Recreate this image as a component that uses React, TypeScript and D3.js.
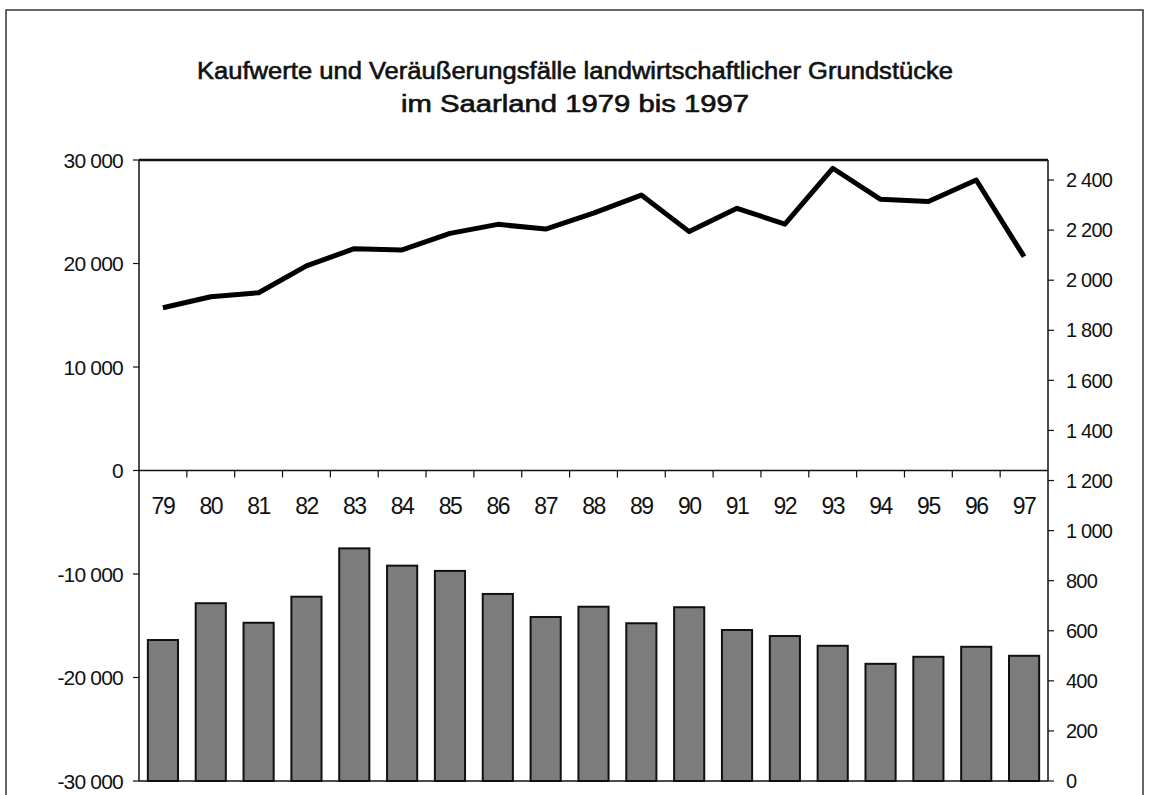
import * as d3 from "d3";

// Saarland, agricultural land: purchase values (line) and number of sales (bars)
const years = ["79", "80", "81", "82", "83", "84", "85", "86", "87", "88", "89", "90", "91", "92", "93", "94", "95", "96", "97"];
const kaufwerte = [1890, 1934, 1950, 2057, 2126, 2121, 2187, 2223, 2204, 2268, 2340, 2194, 2287, 2224, 2447, 2323, 2314, 2400, 2094];
const faelle = [563, 710, 632, 736, 929, 860, 839, 747, 655, 696, 630, 694, 603, 579, 540, 468, 496, 536, 500];
const leftTicks = [30000, 20000, 10000, 0, -10000, -20000, -30000];
const rightTicks = [0, 200, 400, 600, 800, 1000, 1200, 1400, 1600, 1800, 2000, 2200, 2400];
const titleLines = [
  "Kaufwerte und Veräußerungsfälle landwirtschaftlicher Grundstücke",
  "im Saarland 1979 bis 1997",
];
const titleWidths = [756, 348];

const W = 1150;
const H = 795;
const left = 139, right = 1048, top = 160, bottom = 781;
const font = "'Liberation Sans', Arial, Helvetica, sans-serif";

const de = d3.formatLocale({ decimal: ",", thousands: " ", grouping: [3], currency: ["", ""], minus: "-" });
const fmt = de.format(",d");

export default function App() {
  const x = d3.scaleBand().domain(years).range([left, right]).paddingInner(0.37).paddingOuter(0.185);
  const xc = d3.scaleBand().domain(years).range([left, right]);
  const yL = d3.scaleLinear().domain([-30000, 30000]).range([bottom, top]);
  const yR = d3.scaleLinear().domain([0, 2480]).range([bottom, top]);
  const zero = yL(0);

  const line = d3.line<number>()
    .x((_, i) => xc(years[i])! + xc.bandwidth() / 2)
    .y(d => yR(d));

  return (
    <svg width={W} height={H} style={{ display: "block", position: "absolute", left: 0, top: 0, background: "#fff" }}>
      <rect x={6} y={10} width={1137} height={800} fill="none" stroke="#333" strokeWidth={1.5} />

      {titleLines.map((t, i) => (
        <text key={i} x={575} y={79 + i * 33} textAnchor="middle" fontFamily={font} fontSize={23}
          stroke="#111" strokeWidth={0.6} textLength={titleWidths[i]} lengthAdjust="spacingAndGlyphs" fill="#111">{t}</text>
      ))}

      {/* bars */}
      {faelle.map((v, i) => (
        <rect key={years[i]} x={x(years[i])} y={yR(v)} width={x.bandwidth()} height={yR(0) - yR(v)}
          fill="#7c7c7c" stroke="#111" strokeWidth={2} />
      ))}

      {/* plot frame */}
      <line x1={left} x2={right} y1={top} y2={top} stroke="#111" strokeWidth={2.5} />
      <line x1={left} x2={right} y1={bottom} y2={bottom} stroke="#111" strokeWidth={1.5} />
      <line x1={left} x2={left} y1={top} y2={bottom} stroke="#111" strokeWidth={1.5} />
      <line x1={right} x2={right} y1={top} y2={bottom} stroke="#111" strokeWidth={1.5} />

      {/* category axis at zero */}
      <line x1={left} x2={right} y1={zero} y2={zero} stroke="#111" strokeWidth={1.5} />
      {years.slice(1).map(c => (
        <line key={c} x1={xc(c)} x2={xc(c)} y1={zero} y2={zero + 7} stroke="#111" strokeWidth={1.2} />
      ))}
      {years.map(c => (
        <text key={c} x={xc(c)! + xc.bandwidth() / 2} y={514} textAnchor="middle" fontFamily={font}
          fontSize={23} letterSpacing={-1.5} fill="#111">{c}</text>
      ))}

      {/* left axis */}
      {leftTicks.map(t => (
        <g key={t}>
          <line x1={left - 6} x2={left} y1={yL(t)} y2={yL(t)} stroke="#111" strokeWidth={1.2} />
          <text x={123} y={yL(t)} dy="0.36em" textAnchor="end" fontFamily={font} fontSize={21}
            letterSpacing={-0.8} fill="#111">{fmt(t)}</text>
        </g>
      ))}

      {/* right axis */}
      {rightTicks.map(t => (
        <g key={t}>
          <line x1={right} x2={right + 6} y1={yR(t)} y2={yR(t)} stroke="#111" strokeWidth={1.2} />
          <text x={1066} y={yR(t)} dy="0.36em" textAnchor="start" fontFamily={font} fontSize={20}
            letterSpacing={-0.8} fill="#111">{fmt(t)}</text>
        </g>
      ))}

      {/* line series */}
      <path d={line(kaufwerte)!} fill="none" stroke="#000" strokeWidth={5} strokeLinejoin="round" strokeLinecap="butt" />
    </svg>
  );
}
